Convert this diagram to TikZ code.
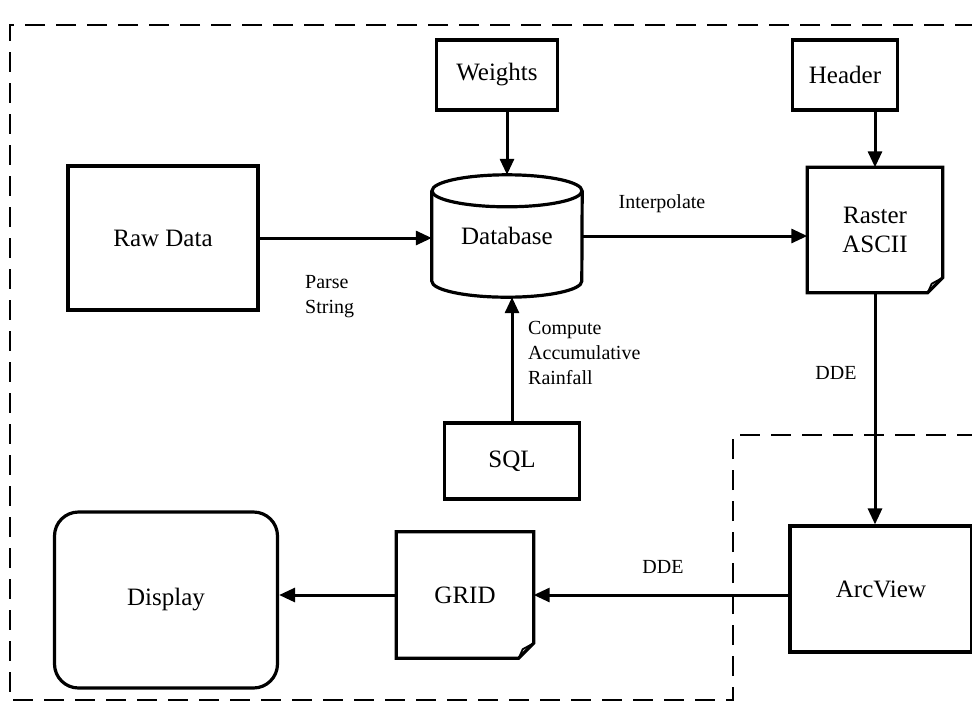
\documentclass[tikz,border=0pt]{standalone}
\usepackage{fontspec}
\setmainfont{Liberation Serif}
\usetikzlibrary{arrows.meta, positioning, calc}

% page with a folded corner, drawn round a named node
\newcommand{\docshape}[1]{%
  \draw[boxline] (#1.north west) -- (#1.north east) -- ([yshift=15pt]#1.south east)
    -- ([xshift=-15pt]#1.south east) -- (#1.south west) -- cycle;
  \draw[line width=1.8pt] ([yshift=15pt]#1.south east) -- ([xshift=-11pt,yshift=9pt]#1.south east)
    -- ([xshift=-15pt]#1.south east);
}

\begin{document}
\begin{tikzpicture}[x=1pt, y=-1pt,
    boxline/.style={line width=3.2pt, line join=miter},
    box/.style={draw, boxline, rectangle, align=center, font=\fontsize{25}{28}\selectfont, inner sep=0pt},
    doc/.style={rectangle, align=center, font=\fontsize{25}{29}\selectfont, inner sep=0pt},
    lbl/.style={font=\fontsize{20}{25}\selectfont, align=left, inner sep=0pt},
    flow/.style={line width=3pt, -{Triangle[length=16pt,width=14pt]}},
    region/.style={line width=1.8pt, dash pattern=on 20pt off 11pt}]
    \useasboundingbox (0,0) rectangle (972,716);

    % dashed regions
    \draw[region] (975,25) -- (10,25) -- (10,700) -- (733,700) -- (733,435) -- (975,435);

    \node[box, minimum width=121pt, minimum height=70pt] (weights) at (497,75) {Weights};
    \node[box, minimum width=105pt, minimum height=70pt] (header) at (845,75) {Header};
    \node[box, minimum width=190pt, minimum height=144pt] (rawdata) at (163,238) {Raw Data};
    \node[box, minimum width=135pt, minimum height=76pt] (sql) at (512,461) {SQL};
    \node[box, minimum width=182pt, minimum height=126pt] (arcview) at (881,589) {ArcView};
    \node[box, minimum width=223pt, minimum height=176pt, rounded corners=24pt] (display) at (166,600) {Display};

    % database cylinder
    \node[doc, minimum width=150pt, minimum height=122pt] (db) at (507,236) {Database};
    \draw[boxline] ([yshift=-16pt]db.north west) -- ([yshift=16pt]db.south west)
        arc[start angle=180, end angle=360, x radius=75pt, y radius=16pt] -- ([yshift=-16pt]db.north east);
    \draw[boxline] ([yshift=-16pt]db.north) ellipse [x radius=75pt, y radius=16pt];

    % documents
    \node[doc, minimum width=135pt, minimum height=125pt] (raster) at (875,230) {Raster\\ASCII};
    \docshape{raster}
    \node[doc, minimum width=137pt, minimum height=126pt] (grid) at (465,595) {GRID};
    \docshape{grid}

    % connectors
    \draw[flow] (weights.south -| db.north) -- (db.north);
    \draw[flow] (raster.north |- header.south) -- (raster.north);
    \draw[flow] (rawdata.east) -- (db.west |- rawdata.east);
    \draw[flow] (db.east) -- (raster.west |- db.east);
    \draw[flow] (sql.north) -- (sql.north |- db.south);
    \draw[flow] (raster.south) -- (raster.south |- arcview.north);
    \draw[flow] (arcview.west |- grid.east) -- (grid.east);
    \draw[flow] (grid.west) -- (display.east |- grid.west);

    % labels
    \node[lbl, anchor=west] (parse) at (305,297) {Parse\\String};
    \node[lbl] (interp) at (662,204) {Interpolate};
    \node[lbl, anchor=west] (compute) at (528,353) {Compute\\Accumulative\\Rainfall};
    \node[lbl] (dde1) at (836,373) {DDE};
    \node[lbl] (dde2) at (663,567) {DDE};
\end{tikzpicture}
\end{document}
